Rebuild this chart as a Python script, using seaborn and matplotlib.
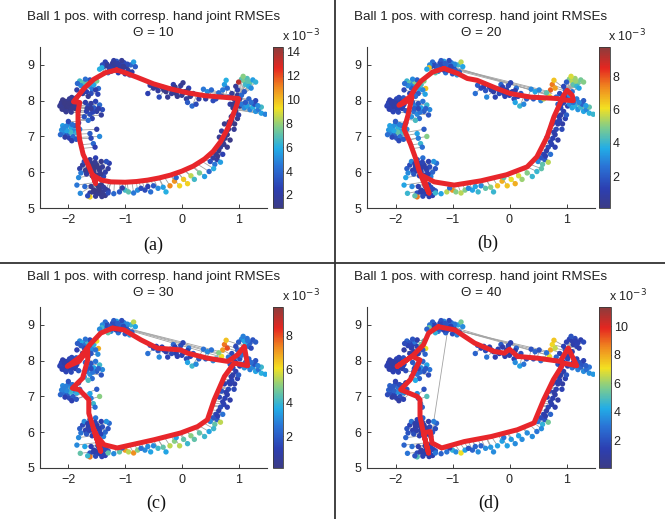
import numpy as np
import pandas as pd
import seaborn as sns
import matplotlib
matplotlib.use("Agg")
import matplotlib.pyplot as plt
from matplotlib.colors import LinearSegmentedColormap, Normalize
from matplotlib.collections import LineCollection
from matplotlib.lines import Line2D

# -------------------- data (errors in units of 1e-3) --------------------
# points that keep about the same RMSE in all four panels: (x, y, err)
top_cluster = [(-1.38, 8.95, 2.0), (-1.32, 9.02, 1.8), (-1.28, 8.9, 2.5), (-1.22, 9.05, 1.5),
               (-1.18, 8.97, 1.7), (-1.15, 9.1, 3.5), (-1.1, 8.93, 1.6), (-1.08, 9.0, 2.2),
               (-1.05, 8.88, 1.9), (-1.02, 9.06, 2.8), (-0.98, 8.95, 1.5), (-0.95, 8.85, 2.0),
               (-1.25, 8.82, 3.0), (-1.3, 8.78, 4.5), (-0.9, 9.0, 4.0), (-0.85, 9.08, 5.5),
               (-1.12, 8.78, 2.5), (-1.0, 8.75, 1.8), (-0.92, 8.72, 3.2), (-1.2, 9.12, 2.0),
               (-1.35, 9.08, 2.4), (-1.06, 9.12, 1.6), (-0.88, 8.8, 2.1), (-1.16, 8.86, 1.4),
               (-0.96, 9.02, 3.0), (-1.33, 8.98, 1.5), (-1.26, 8.96, 1.9), (-1.19, 9.02, 1.6),
               (-1.13, 9.04, 2.0), (-1.09, 8.85, 1.8), (-1.03, 8.96, 1.5), (-1.24, 8.88, 2.2),
               (-1.4, 9.0, 3.0), (-0.82, 8.95, 3.5)]
left_cluster = [(-2.12, 7.95, 1.2), (-2.08, 7.88, 1.0), (-2.1, 7.8, 1.3), (-2.05, 7.98, 1.1),
                (-2.02, 7.9, 0.9), (-2.0, 7.82, 1.0), (-1.97, 7.75, 1.2), (-1.95, 7.95, 1.4),
                (-1.92, 7.85, 1.0), (-2.15, 7.85, 1.3), (-2.06, 7.74, 1.5), (-1.88, 7.78, 1.1),
                (-1.85, 7.9, 1.6), (-1.9, 8.02, 1.2), (-1.98, 8.05, 1.4), (-2.1, 8.02, 1.1),
                (-1.82, 7.72, 1.8), (-1.95, 7.68, 1.5), (-2.03, 7.83, 0.9), (-1.9, 7.92, 1.0),
                (-2.13, 7.9, 1.4), (-1.86, 8.08, 2.0), (-2.07, 7.93, 1.0), (-2.0, 7.87, 1.1),
                (-1.93, 7.8, 1.2), (-2.11, 7.76, 1.2), (-1.99, 7.93, 1.0), (-1.87, 7.85, 1.3),
                (-2.04, 7.69, 1.4), (-1.94, 8.09, 1.5)]
left_inner = [(-1.7, 7.95, 2.2), (-1.65, 7.85, 2.8), (-1.6, 7.92, 1.8), (-1.55, 7.8, 3.5),
              (-1.68, 7.7, 2.5), (-1.62, 7.62, 3.0), (-1.5, 7.7, 2.0), (-1.45, 7.88, 4.0),
              (-1.72, 7.55, 3.2), (-1.58, 7.5, 2.4), (-1.42, 7.6, 1.8), (-1.52, 7.98, 2.6),
              (-1.4, 7.75, 3.0), (-1.65, 7.45, 4.2), (-1.62, 7.08, 3.5), (-1.56, 6.8, 4.0),
              (-1.53, 6.7, 2.5), (-1.5, 7.2, 2.0), (-1.6, 6.95, 2.8), (-1.45, 7.0, 5.0),
              (-1.67, 7.78, 2.0), (-1.57, 7.68, 2.6), (-1.47, 7.78, 2.2), (-1.6, 7.78, 1.6)]
bottom_left = [(-1.8, 6.1, 2.0), (-1.75, 6.2, 1.5), (-1.7, 6.05, 1.2), (-1.65, 6.15, 1.0),
               (-1.6, 6.25, 1.3), (-1.55, 6.1, 1.1), (-1.5, 6.2, 1.0), (-1.45, 6.05, 1.4),
               (-1.4, 6.15, 1.6), (-1.35, 6.0, 2.2), (-1.3, 6.1, 1.8), (-1.62, 6.35, 1.5),
               (-1.52, 6.4, 2.5), (-1.42, 6.3, 1.2), (-1.68, 5.95, 1.9), (-1.58, 5.9, 1.3),
               (-1.48, 5.92, 1.0), (-1.38, 5.88, 2.8), (-1.72, 6.3, 3.0), (-1.28, 6.25, 2.4),
               (-1.55, 6.0, 1.0), (-1.33, 6.3, 3.2), (-1.6, 5.6, 1.2), (-1.55, 5.5, 1.0),
               (-1.5, 5.4, 1.3), (-1.45, 5.55, 1.1), (-1.4, 5.45, 1.4), (-1.35, 5.35, 1.2),
               (-1.42, 5.65, 1.0), (-1.52, 5.33, 1.5), (-1.62, 5.42, 1.8), (-1.38, 5.58, 1.6),
               (-1.48, 5.62, 1.0), (-1.3, 5.48, 2.0), (-1.63, 6.05, 1.2), (-1.57, 6.18, 1.0),
               (-1.47, 6.12, 1.1), (-1.53, 6.28, 1.4), (-1.43, 5.95, 1.3), (-1.66, 6.24, 1.1),
               (-1.44, 5.4, 1.2), (-1.56, 5.45, 1.1), (-1.47, 5.5, 1.0), (-1.41, 5.32, 1.3),
               (-1.34, 5.52, 1.6)]
middle_top = [(-0.56, 8.43, 2.0), (-0.5, 8.35, 1.5), (-0.42, 8.28, 1.8), (-0.35, 8.38, 1.2),
              (-0.28, 8.25, 1.0), (-0.2, 8.32, 1.4), (-0.15, 8.45, 2.2), (-0.1, 8.2, 1.1),
              (-0.05, 8.3, 1.0), (0.0, 8.15, 1.3), (0.05, 8.25, 0.9), (0.08, 8.05, 1.5),
              (0.12, 8.35, 2.5), (0.15, 8.12, 1.2), (0.2, 8.2, 1.8), (-0.02, 8.42, 1.6),
              (0.1, 7.95, 3.5), (0.18, 7.85, 4.0), (0.25, 7.9, 3.0), (-0.25, 8.1, 1.4),
              (0.3, 8.05, 2.0), (0.02, 8.5, 1.4), (-0.6, 8.2, 2.5), (-0.4, 8.1, 3.0),
              (0.42, 8.05, 2.0), (0.55, 8.0, 3.0), (-0.45, 8.4, 1.3), (-0.32, 8.3, 1.1),
              (-0.12, 8.38, 1.2), (0.02, 8.22, 1.0), (-0.08, 8.12, 1.3), (0.1, 8.28, 1.1),
              (-0.18, 8.2, 1.5)]
right_column = [(0.95, 7.7, 1.2), (0.9, 7.6, 1.0), (0.88, 7.45, 1.4), (0.85, 7.35, 1.1),
                (0.82, 7.2, 1.5), (0.8, 7.05, 1.0), (0.76, 6.95, 1.3), (0.72, 6.85, 1.2),
                (0.68, 6.7, 1.6), (0.65, 6.6, 1.0), (0.6, 6.5, 1.4), (0.62, 6.35, 2.0),
                (0.55, 6.4, 1.8), (0.72, 6.5, 2.5), (0.8, 6.7, 1.2), (0.85, 6.9, 1.0),
                (0.92, 7.2, 1.5), (0.98, 7.5, 1.3), (0.7, 7.15, 1.8), (0.75, 7.35, 1.2),
                (0.5, 6.3, 3.0), (0.58, 6.22, 4.5), (0.68, 6.28, 5.5), (1.0, 7.6, 2.0),
                (0.66, 6.98, 1.4), (0.88, 8.2, 1.5), (0.92, 8.05, 1.8), (0.95, 7.95, 1.2),
                (0.85, 7.9, 2.0), (0.9, 7.8, 1.4), (0.98, 8.3, 2.2), (1.02, 8.05, 1.6),
                (0.82, 8.1, 2.5), (0.95, 8.4, 1.5), (1.02, 7.85, 1.3), (0.87, 7.55, 1.1),
                (0.83, 7.4, 1.2), (0.78, 7.12, 1.1), (0.74, 6.78, 1.3), (0.63, 6.45, 1.2),
                (0.93, 7.35, 1.0), (0.9, 7.9, 1.2), (0.98, 8.15, 1.4)]

# points whose RMSE changes between panels: (x, y, err_a, err_b, err_c, err_d)
upper_left = [(-1.8, 8.55, 6.5, 4.0, 3.0, 2.5), (-1.75, 8.5, 7.0, 4.5, 3.5, 2.0),
              (-1.7, 8.45, 6.8, 3.0, 2.5, 1.5), (-1.66, 8.52, 7.2, 5.0, 4.0, 3.0),
              (-1.62, 8.4, 5.5, 2.5, 2.0, 1.5), (-1.58, 8.32, 4.5, 3.5, 3.0, 2.0),
              (-1.72, 8.35, 3.5, 2.0, 1.5, 1.2), (-1.78, 8.42, 5.0, 3.0, 2.0, 1.5),
              (-1.84, 8.48, 4.0, 2.5, 2.0, 1.8), (-1.68, 8.25, 2.5, 1.5, 1.5, 1.2),
              (-1.6, 8.2, 3.0, 2.0, 1.8, 1.4), (-1.55, 8.45, 5.8, 4.2, 3.8, 5.5),
              (-1.47, 8.34, 4.0, 6.5, 6.8, 7.0), (-1.52, 8.3, 2.2, 3.0, 2.5, 2.0),
              (-1.62, 8.58, 3.2, 2.0, 1.5, 1.2), (-1.5, 8.55, 7.5, 5.0, 6.0, 5.0),
              (-1.41, 8.92, 6.0, 6.5, 4.0, 5.5), (-1.85, 8.3, 2.0, 1.5, 1.2, 1.0),
              (-1.75, 8.2, 1.8, 1.2, 1.0, 1.0), (-1.48, 8.18, 2.6, 3.5, 3.0, 2.5),
              (-1.65, 8.12, 1.5, 2.5, 2.0, 1.5), (-1.7, 8.6, 4.2, 3.0, 2.5, 2.0)]
mid_left = [(-2.1, 7.3, 5.5, 3.5, 3.0, 2.5), (-2.05, 7.2, 6.0, 4.0, 3.5, 3.0),
            (-2.0, 7.35, 4.5, 3.0, 2.5, 2.0), (-1.95, 7.25, 5.8, 3.8, 3.2, 2.8),
            (-1.9, 7.15, 5.0, 3.5, 2.8, 2.2), (-2.08, 7.1, 4.8, 3.0, 2.5, 2.0),
            (-2.02, 7.05, 3.5, 2.2, 2.0, 1.5), (-1.98, 6.95, 2.5, 1.8, 1.5, 1.2),
            (-1.92, 7.0, 4.0, 2.5, 2.0, 1.8), (-1.85, 7.1, 6.2, 4.2, 3.8, 3.5),
            (-1.88, 7.3, 3.8, 2.5, 2.0, 1.5), (-2.12, 7.18, 5.2, 3.2, 2.8, 2.5),
            (-2.0, 7.42, 3.0, 2.0, 1.8, 1.5), (-1.94, 6.88, 2.2, 1.5, 1.2, 1.0),
            (-1.86, 6.92, 3.4, 2.0, 1.8, 1.5), (-2.06, 6.98, 2.0, 1.5, 1.2, 1.0),
            (-1.8, 7.2, 4.6, 3.0, 2.5, 2.0), (-1.96, 7.12, 6.5, 4.5, 4.0, 3.5),
            (-2.04, 7.28, 5.0, 3.2, 2.8, 2.2), (-1.82, 7.38, 2.5, 1.8, 1.5, 1.2),
            (-2.14, 7.05, 4.0, 2.5, 2.2, 1.8), (-1.45, 8.88, 6.0, 3.5, 3.0, 2.5),
            (-2.03, 7.16, 5.6, 3.6, 3.0, 2.4), (-1.93, 7.33, 4.2, 2.8, 2.4, 1.8),
            (-2.09, 7.23, 5.0, 3.4, 2.8, 2.2)]
bottom_fan = [(-1.79, 5.41, 5.0, 4.0, 4.5, 3.0), (-1.85, 5.64, 4.5, 3.5, 3.0, 2.5),
              (-1.71, 5.6, 4.0, 3.0, 3.5, 2.8), (-1.62, 5.31, 9.5, 7.5, 7.5, 5.0),
              (-1.66, 5.34, 3.0, 4.5, 4.0, 2.0), (-1.78, 5.98, 4.5, 3.0, 2.5, 2.0),
              (-1.82, 5.85, 5.0, 3.5, 3.0, 2.5),
              (-1.2, 5.4, 4.0, 3.5, 3.0, 2.5), (-1.1, 5.45, 3.5, 5.5, 4.5, 3.0),
              (-1.0, 5.5, 6.5, 7.2, 7.0, 4.5), (-0.94, 5.45, 7.0, 5.0, 5.5, 3.5),
              (-0.85, 5.42, 4.5, 5.5, 7.2, 7.0), (-0.78, 5.5, 5.0, 5.0, 5.0, 4.0),
              (-0.65, 5.5, 3.0, 3.5, 3.0, 2.5), (-0.55, 5.45, 4.2, 4.0, 3.5, 3.5),
              (-0.5, 5.62, 3.5, 3.0, 3.0, 2.5), (-0.42, 5.55, 5.0, 4.5, 4.0, 3.5),
              (-0.33, 5.58, 5.5, 5.0, 4.5, 3.8), (-0.28, 5.45, 6.0, 4.0, 3.5, 3.5),
              (-0.21, 5.62, 11.0, 6.5, 5.5, 4.0), (-0.13, 5.75, 10.8, 6.8, 5.0, 4.0),
              (-0.04, 5.62, 9.5, 6.5, 5.5, 4.0), (0.03, 5.8, 9.8, 6.0, 4.5, 3.8),
              (0.1, 5.68, 9.6, 6.8, 4.0, 3.5), (0.16, 5.9, 8.5, 5.8, 5.0, 4.0),
              (0.22, 5.8, 6.5, 5.2, 4.5, 3.5), (0.31, 5.98, 7.5, 5.0, 4.5, 3.5),
              (0.4, 5.88, 5.5, 4.0, 4.0, 3.5), (0.48, 6.02, 4.0, 4.0, 3.5, 3.0),
              (0.56, 6.1, 6.0, 4.5, 4.0, 3.5), (-0.1, 5.85, 4.0, 4.5, 3.5, 3.0),
              (-0.72, 5.55, 3.0, 3.0, 2.5, 2.0), (-1.05, 5.56, 2.0, 2.5, 2.0, 1.5),
              (-0.6, 5.6, 2.5, 3.5, 3.0, 2.5), (-1.3, 5.42, 3.0, 4.0, 4.5, 3.0)]
right_cluster = [(1.05, 8.6, 7.0, 5.0, 3.0, 1.5), (1.1, 8.55, 7.5, 5.5, 3.5, 1.2),
                 (1.15, 8.62, 6.8, 5.2, 2.5, 1.8), (1.2, 8.5, 7.2, 4.8, 2.0, 1.5),
                 (1.12, 8.45, 6.5, 4.5, 3.8, 1.2), (1.08, 8.68, 7.8, 5.8, 2.8, 2.0),
                 (1.18, 8.4, 6.0, 4.0, 2.2, 1.5), (1.25, 8.58, 5.5, 4.8, 1.8, 1.3),
                 (1.3, 8.52, 6.2, 5.0, 2.0, 1.8), (1.22, 8.35, 5.0, 3.5, 1.5, 1.2),
                 (1.05, 7.9, 4.5, 3.0, 3.0, 2.5), (1.1, 7.8, 5.0, 3.5, 3.2, 3.0),
                 (1.15, 7.85, 5.5, 3.8, 2.5, 2.2), (1.2, 7.75, 4.8, 3.2, 2.8, 3.2),
                 (1.25, 7.82, 6.0, 4.0, 3.0, 2.5), (1.3, 7.7, 5.2, 3.5, 3.5, 3.5),
                 (1.35, 7.75, 4.5, 3.0, 2.5, 2.8), (1.4, 7.65, 5.5, 3.8, 3.8, 3.5),
                 (1.47, 7.62, 4.8, 4.0, 3.5, 3.8), (1.12, 7.95, 3.5, 2.5, 2.0, 1.8),
                 (1.28, 7.9, 3.2, 2.2, 1.8, 2.0), (1.18, 8.05, 3.8, 2.8, 2.2, 1.5),
                 (1.05, 8.15, 4.0, 3.0, 2.5, 1.5), (1.1, 8.25, 3.5, 2.5, 2.0, 1.2),
                 (1.3, 8.0, 2.8, 2.0, 1.8, 1.5), (1.4, 7.82, 6.5, 4.5, 4.0, 3.0),
                 (1.0, 8.52, 13.5, 2.0, 2.0, 1.5), (1.16, 8.55, 7.0, 5.2, 2.6, 1.4),
                 (1.22, 7.95, 4.2, 3.0, 2.4, 2.0), (1.34, 7.86, 5.0, 3.4, 2.8, 2.4)]
right_hot = [(0.75, 8.45, 5.5, 7.5, 7.5, 7.2), (0.72, 8.3, 4.5, 7.8, 7.0, 8.0),
             (0.8, 8.35, 4.0, 7.0, 8.0, 6.5), (0.7, 8.12, 3.5, 6.0, 6.0, 7.0),
             (0.65, 8.22, 4.2, 4.5, 5.0, 3.0), (0.78, 8.57, 6.0, 6.5, 6.5, 7.5),
             (0.6, 8.05, 3.0, 5.5, 4.0, 6.0), (0.38, 8.32, 4.5, 3.0, 2.5, 2.0),
             (0.45, 8.25, 5.0, 3.5, 3.0, 2.5), (0.52, 8.3, 4.0, 3.0, 2.5, 2.0)]

# red trajectories (x, y), one per panel
traj_a = [(-1.15, 8.86), (-1.35, 8.78), (-1.55, 8.6), (-1.72, 8.35), (-1.91, 7.97), (-1.8, 7.95),
          (-1.83, 7.7), (-1.83, 7.3), (-1.8, 6.9), (-1.74, 6.5), (-1.65, 6.2), (-1.57, 5.9),
          (-1.52, 5.68), (-1.55, 5.9), (-1.42, 5.78), (-1.25, 5.73), (-1.0, 5.72), (-0.8, 5.74),
          (-0.6, 5.78), (-0.4, 5.84), (-0.2, 5.92), (0.0, 6.03), (0.2, 6.17), (0.4, 6.37),
          (0.55, 6.58), (0.68, 6.85), (0.8, 7.2), (0.9, 7.6), (0.96, 7.85), (1.0, 8.06),
          (0.7, 8.1), (0.4, 8.14), (0.1, 8.22), (-0.2, 8.33), (-0.5, 8.47), (-0.8, 8.66),
          (-1.0, 8.78), (-1.15, 8.86)]
traj_b = [(-1.15, 8.9), (-1.35, 8.8), (-1.55, 8.55), (-1.65, 8.35), (-1.74, 8.12), (-1.94, 7.87),
          (-1.8, 7.98), (-1.71, 8.1), (-1.78, 7.6), (-1.85, 7.2), (-1.74, 6.8), (-1.65, 6.4),
          (-1.59, 6.06), (-1.5, 5.7), (-1.41, 5.41), (-1.52, 5.9), (-1.32, 5.73), (-0.97, 5.64),
          (-0.5, 5.76), (-0.05, 5.93), (0.31, 6.15), (0.48, 6.43), (0.66, 6.99), (0.78, 7.55),
          (0.88, 7.9), (0.95, 8.15), (1.01, 8.29), (1.1, 8.15), (1.12, 8.0), (0.95, 8.02),
          (0.84, 8.06), (0.37, 8.1), (0.01, 8.2), (-0.22, 8.34), (-0.57, 8.57), (-0.74, 8.62),
          (-0.91, 8.76), (-1.15, 8.9)]
traj_c = [(-1.22, 8.91), (-1.43, 8.77), (-1.62, 8.45), (-1.78, 8.12), (-2.02, 7.84), (-1.81, 7.98),
          (-1.66, 8.3), (-1.66, 8.02), (-1.75, 7.51), (-1.93, 7.23), (-1.81, 7.19), (-1.64, 6.91),
          (-1.64, 6.53), (-1.55, 6.07), (-1.43, 5.47), (-1.55, 6.07), (-1.49, 5.88), (-1.37, 5.65),
          (-1.14, 5.56), (-0.49, 5.79), (-0.02, 5.98), (0.28, 6.16), (0.45, 6.35), (0.57, 6.91),
          (0.75, 7.56), (0.92, 7.93), (1.16, 7.86), (1.1, 8.4), (0.98, 8.16), (0.81, 7.98),
          (0.45, 8.07), (0.1, 8.21), (-0.02, 8.3), (-0.43, 8.35), (-0.72, 8.58), (-1.02, 8.86),
          (-1.22, 8.91)]
traj_d = [(-1.25, 8.95), (-1.42, 8.77), (-1.51, 8.44), (-1.71, 8.12), (-1.97, 7.84), (-1.71, 8.12),
          (-1.57, 8.02), (-1.74, 7.47), (-1.91, 7.19), (-1.62, 7.0), (-1.57, 6.91), (-1.57, 6.44),
          (-1.51, 5.98), (-1.42, 5.42), (-1.51, 5.98), (-1.39, 6.02), (-1.36, 5.7), (-1.19, 5.56),
          (-0.79, 5.74), (-0.32, 5.88), (0.14, 6.07), (0.43, 6.26), (0.6, 6.91), (0.77, 7.47),
          (0.95, 7.93), (1.18, 7.86), (1.03, 8.35), (0.89, 7.98), (0.49, 8.07), (0.14, 8.12),
          (0.0, 8.32), (-0.09, 8.21), (-0.27, 8.26), (-0.61, 8.49), (-0.96, 8.86), (-1.25, 8.95)]

# long correspondence lines (x0, y0, x1, y1)
links_a = [(0.38, 8.32, 0.98, 8.07), (0.45, 8.25, 0.98, 8.07), (0.52, 8.3, 0.98, 8.07),
           (0.65, 8.22, 0.98, 8.07), (0.75, 8.45, 0.98, 8.07), (0.6, 8.05, 0.98, 8.07)]
links_b = [(-1.05, 8.95, 0.72, 8.15), (-1.0, 8.9, 0.75, 8.2), (-0.95, 8.93, 0.78, 8.1),
           (-0.9, 8.88, 0.7, 8.25), (-1.1, 8.92, 0.68, 8.18)]
links_c = [(-1.05, 8.92, 0.72, 8.15), (-1.0, 8.88, 0.7, 8.1), (-0.95, 8.9, 0.75, 8.22),
           (-1.08, 8.95, 0.68, 8.2)]
links_d = [(-1.0, 8.88, 0.72, 8.2), (-0.95, 8.92, 0.75, 8.12), (-1.05, 8.9, 0.7, 8.25),
           (-0.9, 8.85, 0.68, 8.15), (-1.08, 8.9, -1.36, 5.98)]

thetas = [10, 20, 30, 40]
panel_labels = ["(a)", "(b)", "(c)", "(d)"]
cbar_ranges = [(0.9, 14.4), (0.1, 9.75), (0.1, 9.7), (0.05, 11.35)]
cbar_ticks = [[2, 4, 6, 8, 10, 12, 14], [2, 4, 6, 8], [2, 4, 6, 8], [2, 4, 6, 8, 10]]
trajs = [traj_a, traj_b, traj_c, traj_d]
links = [links_a, links_b, links_c, links_d]

# -------------------- build tables --------------------
fixed = pd.DataFrame(top_cluster + left_cluster + left_inner + bottom_left + middle_top + right_column,
                     columns=["x", "y", "err"])
varying = pd.DataFrame(upper_left + mid_left + bottom_fan + right_cluster + right_hot,
                       columns=["x", "y", "a", "b", "c", "d"])


def panel_points(k):
    col = "abcd"[k]
    v = varying[["x", "y", col]].rename(columns={col: "err"})
    return pd.concat([fixed, v], ignore_index=True)


def nearest_on_path(px, py, path):
    t_xy = np.array(path)
    ax_, ay_ = t_xy[:-1, 0], t_xy[:-1, 1]
    dx, dy = t_xy[1:, 0] - ax_, t_xy[1:, 1] - ay_
    t = ((px - ax_) * dx + (py - ay_) * dy) / (dx * dx + dy * dy + 1e-12)
    t = np.clip(t, 0, 1)
    qx, qy = ax_ + t * dx, ay_ + t * dy
    i = np.argmin((qx - px) ** 2 + (qy - py) ** 2)
    return qx[i], qy[i]


# -------------------- style --------------------
sns.set_theme(style="white")
plt.rcParams["font.family"] = ["Liberation Sans", "DejaVu Sans"]
plt.rcParams["axes.unicode_minus"] = True

cmap = LinearSegmentedColormap.from_list(
    "mjet",
    [(0.0, "#3b3b86"), (0.12, "#2c3fb2"), (0.26, "#2a74d6"), (0.37, "#22ade6"),
     (0.5, "#7fcc8c"), (0.62, "#f2e022"), (0.75, "#f0891f"), (0.87, "#e52620"),
     (1.0, "#8b3c3c")])

W, H = 665, 519
fig = plt.figure(figsize=(W / 100, H / 100), dpi=100)
fig.patch.set_facecolor("white")


def px_rect(l, t, r, b):
    return [l / W, 1 - b / H, (r - l) / W, (b - t) / H]


axes_px = [(40, 47, 267, 208), (367, 47, 595, 208), (40, 307, 267, 468), (367, 307, 595, 468)]
cbar_px = [(273, 47, 283, 208), (599, 47, 610, 208), (273, 307, 283, 468), (599, 307, 611, 468)]
label_px = [(153, 245), (488, 243), (156, 503), (489, 503)]

for k in range(4):
    ax = fig.add_axes(px_rect(*axes_px[k]))
    pts = panel_points(k)
    path = trajs[k]
    vmin, vmax = cbar_ranges[k]
    norm = Normalize(vmin, vmax)

    # grey lines from each point to the trajectory
    segs = []
    for x, y in zip(pts["x"], pts["y"]):
        qx, qy = nearest_on_path(x, y, path)
        segs.append([(x, y), (qx, qy)])
    for x0, y0, x1, y1 in links[k]:
        segs.append([(x0, y0), (x1, y1)])
    ax.add_collection(LineCollection(segs, colors="#a3a3a3", linewidths=0.6, zorder=1))

    sns.scatterplot(data=pts, x="x", y="y", hue="err", palette=cmap, hue_norm=norm,
                    s=15, linewidth=0, legend=False, ax=ax, zorder=2)

    tr = pd.DataFrame(path, columns=["x", "y"])
    sns.lineplot(data=tr, x="x", y="y", sort=False, estimator=None, color="#e8262b",
                 linewidth=3.6, ax=ax, zorder=3, solid_joinstyle="round", solid_capstyle="round")

    ax.set_xlim(-2.5, 1.5)
    ax.set_ylim(5, 9.5)
    ax.set_xticks([-2, -1, 0, 1])
    ax.set_yticks([5, 6, 7, 8, 9])
    ax.set_xlabel("")
    ax.set_ylabel("")
    for s in ["top", "right"]:
        ax.spines[s].set_visible(False)
    for s in ["left", "bottom"]:
        ax.spines[s].set_color("#3a3a3a")
        ax.spines[s].set_linewidth(0.8)
    ax.tick_params(direction="in", length=3, width=0.6, labelsize=9, colors="#222222",
                   left=True, bottom=True, pad=4)
    ax.set_title("Ball 1 pos. with corresp. hand joint RMSEs\n\u0398 = %d" % thetas[k],
                 fontsize=9.6, pad=8, color="#222222", linespacing=1.45)

    cax = fig.add_axes(px_rect(*cbar_px[k]))
    sm = plt.cm.ScalarMappable(norm=norm, cmap=cmap)
    cb = fig.colorbar(sm, cax=cax)
    cb.set_ticks(cbar_ticks[k])
    cb.outline.set_linewidth(0.6)
    cb.outline.set_edgecolor("#3a3a3a")
    cax.tick_params(direction="in", length=2, width=0.5, labelsize=9, colors="#222222", pad=2)
    cax.text(0.85, 1.015, r"x 10$^{-3}$", transform=cax.transAxes, ha="left", va="bottom",
             fontsize=9, color="#222222")

    lx, ly = label_px[k]
    fig.text(lx / W, 1 - ly / H, panel_labels[k], ha="center", va="center",
             fontsize=13, family=["Liberation Serif", "DejaVu Serif"], color="#111111")

# panel separators
fig.add_artist(Line2D([335 / W, 335 / W], [0, 1], transform=fig.transFigure, color="#333333", lw=1.3))
fig.add_artist(Line2D([0, 1], [1 - 263 / H, 1 - 263 / H], transform=fig.transFigure,
                      color="#333333", lw=1.3))

fig.savefig("out.png", dpi=100, facecolor="white")
